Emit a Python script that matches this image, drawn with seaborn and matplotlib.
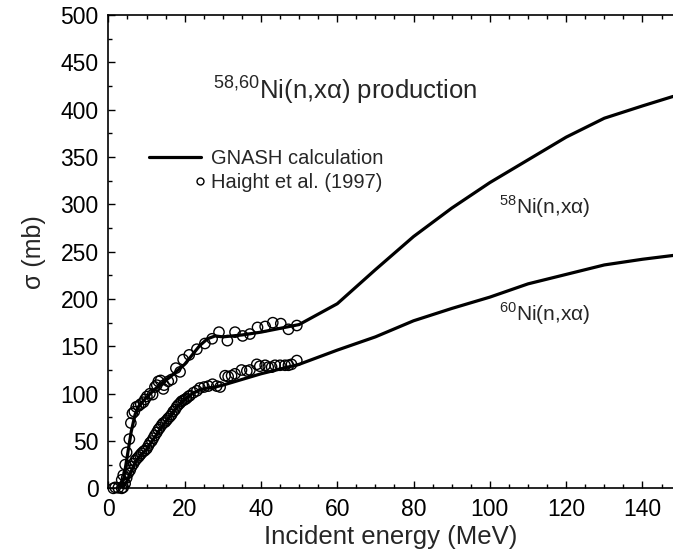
import numpy as np
import pandas as pd
import matplotlib
matplotlib.use("Agg")
import matplotlib.pyplot as plt
from matplotlib.lines import Line2D
from matplotlib.legend_handler import HandlerLine2D
from matplotlib.ticker import MultipleLocator
import seaborn as sns

# ---- GNASH calculations ----
calc_e = [3, 4, 5, 6, 7, 8, 10, 12, 14, 16, 18, 20, 22, 24, 26, 28, 30, 35, 40, 45, 50,
          60, 70, 80, 90, 100, 110, 120, 130, 140, 148]
calc_ni58 = [0, 10, 35, 60, 78, 87, 96, 104, 111, 117, 124, 131, 141, 151, 158, 161, 160,
             162, 165, 169, 173, 195, 231, 266, 296, 323, 347, 371, 391, 404, 414]
calc_ni60 = [0, 2, 8, 18, 27, 33, 41, 53, 65, 75, 86, 94, 100, 104, 106, 107, 109, 115,
             121, 126, 131, 146, 160, 177, 190, 202, 216, 226, 236, 242, 246]

# ---- Haight et al. (1997) data ----
exp58_e = [1.8, 3.5, 3.9, 4.4, 4.8, 5.5, 5.9, 6.3, 6.8, 7.3, 7.9, 8.5, 9.2, 9.6, 10.1,
           10.9, 11.6, 12.2, 12.7, 13.1, 13.7, 14.4, 14.6, 15.7, 16.6, 17.7, 18.8, 19.6,
           21.2, 23.2, 25.3, 27.2, 29.0, 31.2, 33.2, 35.2, 37.1, 39.1, 41.1, 43.1, 45.2,
           47.2, 49.4]
exp58_s = [1, 9, 14, 25, 38, 52, 69, 79, 81, 86, 87, 89, 91, 94, 97, 100, 99, 107, 109,
           113, 114, 105, 109, 113, 115, 127, 123, 136, 141, 147, 153, 158, 165, 156, 165,
           161, 163, 170, 171, 175, 174, 168, 172]

exp60_e = [1.3, 2.6, 3.5, 3.9, 4.4, 4.8, 5.2, 5.7, 6.1, 6.6, 7.0, 7.4, 7.9, 8.3, 8.7, 9.2,
           9.6, 10.1, 10.5, 10.9, 11.4, 11.8, 12.2, 12.7, 13.1, 13.5, 14.0, 14.4, 14.9,
           15.3, 15.7, 16.2, 16.6, 17.0, 17.5, 17.9, 18.3, 18.8, 19.2, 19.7, 20.1, 20.5,
           21.0, 21.4, 22.3, 23.2, 24.0, 25.1, 26.2, 27.3, 28.4, 29.3, 30.6, 31.4, 32.3,
           33.2, 34.9, 36.3, 37.1, 38.9, 39.7, 41.1, 41.9, 42.8, 43.7, 45.0, 46.3, 47.2,
           48.0, 49.4]
exp60_s = [0, 0.5, 0, 1, 5, 11, 16, 19, 23, 26, 29, 31, 33, 35, 37, 39, 40, 42, 45, 48,
           50, 53, 56, 59, 62, 64, 67, 69, 70, 72, 74, 76, 78, 81, 83, 86, 88, 90, 92, 93,
           94, 95, 97, 98, 101, 103, 106, 107, 108, 110, 108, 107, 119, 118, 119, 121, 125,
           124, 125, 131, 129, 130, 128, 128, 130, 130, 130, 130, 131, 135]

x_ticks = [0, 20, 40, 60, 80, 100, 120, 140]
y_ticks = [0, 50, 100, 150, 200, 250, 300, 350, 400, 450, 500]


class RightMarkerHandler(HandlerLine2D):
    """Place the single legend marker at the right end of the handle box."""
    def create_artists(self, legend, orig_handle, xdescent, ydescent, width, height,
                       fontsize, trans):
        artists = super().create_artists(legend, orig_handle, xdescent, ydescent,
                                         width, height, fontsize, trans)
        for a in artists:
            if a.get_marker() not in (None, "None", "", " "):
                a.set_xdata([width - xdescent - 1.0])
        return artists


sns.set_style("ticks")
plt.rcParams["font.family"] = ["Liberation Sans", "DejaVu Sans"]
plt.rcParams["mathtext.fontset"] = "custom"
plt.rcParams["mathtext.rm"] = "Liberation Sans"

fig = plt.figure(figsize=(6.73, 5.57), dpi=100)
ax = fig.add_axes([0.161, 0.1233, 0.839, 0.8497])

calc58 = pd.DataFrame({"E": calc_e, "s": calc_ni58})
calc60 = pd.DataFrame({"E": calc_e, "s": calc_ni60})
sns.lineplot(data=calc58, x="E", y="s", ax=ax, color="black", lw=2.3, sort=False)
sns.lineplot(data=calc60, x="E", y="s", ax=ax, color="black", lw=2.3, sort=False)

d58 = pd.DataFrame({"E": exp58_e, "s": exp58_s})
d60 = pd.DataFrame({"E": exp60_e, "s": exp60_s})
for d in (d58, d60):
    sns.scatterplot(data=d, x="E", y="s", ax=ax, marker="o", s=55,
                    facecolor="none", edgecolor="black", linewidth=1.0,
                    clip_on=False, zorder=3)

ax.set_xlim(0, 148)
ax.set_ylim(0, 500)
ax.set_xticks(x_ticks)
ax.set_yticks(y_ticks)
ax.xaxis.set_minor_locator(MultipleLocator(5))
ax.yaxis.set_minor_locator(MultipleLocator(25))
ax.tick_params(which="both", direction="in", top=True, right=False, width=1.0,
               labelsize=16.5, colors="black")
ax.tick_params(which="major", length=5, pad=7)
ax.tick_params(which="minor", length=3)
for side in ("left", "bottom", "top"):
    ax.spines[side].set_linewidth(1.2)
    ax.spines[side].set_color("black")
ax.spines["right"].set_visible(False)

ax.set_xlabel("Incident energy (MeV)", fontsize=18.5, labelpad=3)
ax.set_ylabel("σ (mb)", fontsize=18, labelpad=10)

ax.text(27.5, 421, r"$^{58{,}60}$Ni(n,xα) production", fontsize=18.5, va="center",
        ha="left")
ax.text(102.5, 297, r"$^{58}$Ni(n,xα)", fontsize=15, va="center", ha="left")
ax.text(102.5, 184, r"$^{60}$Ni(n,xα)", fontsize=15, va="center", ha="left")

handles = [Line2D([], [], color="black", lw=2.3),
           Line2D([], [], color="none", marker="o", markersize=5,
                  markerfacecolor="none", markeredgecolor="black")]
ax.legend(handles, ["GNASH calculation", "Haight et al. (1997)"], frameon=False,
          fontsize=14.5, loc="upper left", bbox_to_anchor=(0.04, 0.755),
          handlelength=2.6, handletextpad=0.5, labelspacing=0.25, numpoints=1,
          handler_map={handles[1]: RightMarkerHandler(numpoints=1)})

fig.savefig("out.png", dpi=100)
